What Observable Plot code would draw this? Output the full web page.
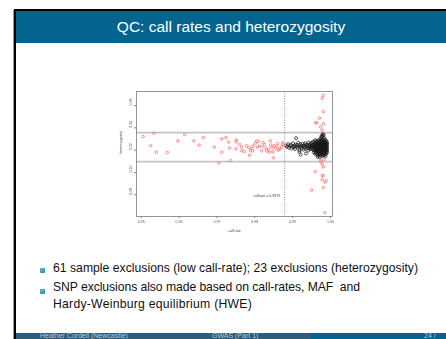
<!DOCTYPE html>
<html>
<head>
<meta charset="utf-8">
<script src="https://cdn.jsdelivr.net/npm/d3@7"></script>
<script src="https://cdn.jsdelivr.net/npm/@observablehq/plot@0.6"></script>
<style>
  html, body { margin: 0; padding: 0; width: 446px; height: 339px; overflow: hidden; background: #fff; font-family: "Liberation Sans", Arial, sans-serif; }
  .abs { position: absolute; }
  #grayline { left: 13px; top: 10px; width: 1px; height: 329px; background: #9a9a9a; }
  #slide { left: 14px; top: 9px; width: 432px; height: 330px; border-left: 2px solid #000; border-top: 2px solid #000; background: #fff; box-sizing: border-box; overflow: hidden; }
  #titlebar { left: 16px; top: 11px; width: 430px; height: 32px; background: #02648f; color: #fff; font-size: 15.5px; line-height: 32px; text-align: center; }
  #chart { left: 100px; top: 80px; width: 240px; height: 160px; }
  #chart svg { filter: blur(0.3px); }
  .bullet { left: 40px; width: 5px; height: 5px; border-radius: 1px; background: radial-gradient(circle at 35% 35%, #5fb7cf, #1a7f9e); }
  .line { left: 53px; font-size: 12.2px; color: #111; white-space: nowrap; line-height: 14px; }
  #footL { left: 16px; top: 333px; width: 295px; height: 12px; background: #2e5c7b; }
  #footR { left: 311px; top: 333px; width: 135px; height: 12px; background: #02648f; }
  .ft { font-size: 7px; color: #b5c8d6; white-space: nowrap; line-height: 7px; top: 332px; }
</style>
</head>
<body>
<div id="grayline" class="abs"></div>
<div id="slide" class="abs"></div>
<div id="titlebar" class="abs">QC: call rates and heterozygosity</div>
<div id="chart" class="abs"></div>

<div class="bullet abs" style="top:268px"></div>
<div class="line abs" data-w="365" style="top:261px">61 sample exclusions (low call-rate); 23 exclusions (heterozygosity)</div>
<div class="bullet abs" style="top:289px"></div>
<div class="line abs" data-w="307" style="top:279.5px">SNP exclusions also made based on call-rates, MAF&nbsp;&nbsp;and</div>
<div class="line abs" data-w="199" style="top:296.5px">Hardy-Weinburg equilibrium (HWE)</div>

<div id="footL" class="abs"></div>
<div id="footR" class="abs"></div>
<div class="ft abs" style="left:40px">Heather Cordell (Newcastle)</div>
<div class="ft abs" style="left:212px">GWAS (Part 1)</div>
<div class="ft abs" style="left:424px">24 /</div>

<script>
// ---- data ----
const xTicks = [0.95, 0.96, 0.97, 0.98, 0.99, 1.00];
const yTicks = [0.28, 0.30, 0.32, 0.34, 0.36];
const hetThresholds = [0.3358, 0.3098];
const callRateThreshold = [0.9879];
const annotationText = ["callrate = 0.9879"];
const annotationX = [0.9832];
const annotationY = [0.2790];

// samples excluded for low call rate (red)
const lowCallRateX = [0.9505,0.9525,0.9533,0.9540,0.9569,0.9597,0.9615,0.9639,0.9653,0.9664,
  0.9693,0.9705,0.9713,0.9713,0.9724,0.9731,0.9733,0.9736,0.9751,0.9751,
  0.9750,0.9765,0.9766,0.9773,0.9778,0.9784,0.9786,0.9789,0.9794,0.9796,
  0.9802,0.9805,0.9810,0.9812,0.9818,0.9821,0.9822,0.9830,0.9832,0.9839,
  0.9841,0.9842,0.9848,0.9849,0.9851,0.9855,0.9860,0.9865,0.9866,0.9873,
  0.9874,0.9760,0.9792,0.9808,0.9826,0.9835,0.9845,0.9858,0.9862,0.9870,0.9876];
const lowCallRateY = [0.3322,0.3239,0.3352,0.3182,0.3179,0.3283,0.3340,0.3283,0.3245,0.3313,
  0.3227,0.3086,0.3301,0.3182,0.3313,0.3272,0.3218,0.3107,0.3292,0.3274,
  0.3212,0.3227,0.3194,0.3188,0.3239,0.3224,0.3155,0.3196,0.3194,0.3239,
  0.3265,0.3281,0.3277,0.3236,0.3194,0.3232,0.3268,0.3214,0.3194,0.3182,
  0.3283,0.3245,0.3185,0.3131,0.3239,0.3218,0.3259,0.3209,0.3212,0.3251,
  0.3265,0.3250,0.3215,0.3228,0.3250,0.3205,0.3222,0.3236,0.3200,0.3225,0.3240];

// samples excluded for heterozygosity (red)
const hetOutlierX = [0.9981,0.9978,0.9981,0.9971,0.9960,0.9964,0.9981,0.9974,0.9978,
  0.9974,0.9978,0.9981,0.9960,0.9978,0.9981,0.9978,0.9989,0.9985,0.9981,0.9950,0.9985,0.9976,0.9983];
const hetOutlierY = [0.3690,0.3666,0.3546,0.3487,0.3445,0.3445,0.3436,0.3409,0.3379,
  0.3104,0.3074,0.3050,0.3008,0.2972,0.2972,0.2936,0.2927,0.2913,0.2865,0.2841,0.2640,0.3095,0.3120];

// retained samples (black)
const keptPoints = [
  [0.9882,0.3242],[0.9885,0.3231],[0.9888,0.3255],[0.9890,0.3222],[0.9893,0.3238],[0.9895,0.3248],
  [0.9897,0.3215],[0.9899,0.3232],[0.9901,0.3262],[0.9903,0.3226],[0.9905,0.3240],[0.9906,0.3210],
  [0.9908,0.3250],[0.9910,0.3232],[0.9909,0.3308],[0.9912,0.3245],[0.9914,0.3220],[0.9915,0.3268],
  [0.9917,0.3236],[0.9918,0.3200],[0.9920,0.3252],[0.9921,0.3228],[0.9923,0.3241],[0.9924,0.3214],
  [0.9926,0.3258],[0.9927,0.3233],[0.9929,0.3205],[0.9930,0.3245],[0.9931,0.3222],[0.9933,0.3262],
  [0.9934,0.3236],[0.9936,0.3212],[0.9937,0.3250],[0.9938,0.3228],[0.9940,0.3240],[0.9941,0.3196],
  [0.9942,0.3270],[0.9943,0.3218],[0.9944,0.3246],[0.9945,0.3232],[0.9946,0.3208],[0.9947,0.3258],
  [0.9948,0.3225],[0.9949,0.3240],[0.9950,0.3214],[0.9951,0.3266],[0.9952,0.3230],[0.9953,0.3248],
  [0.9954,0.3202],[0.9954,0.3276],[0.9921,0.3160],[0.9935,0.3170],[0.9918,0.3185],
  [0.9956,0.3180],[0.9956,0.3205],[0.9956,0.3222],[0.9956,0.3238],[0.9956,0.3255],
  [0.9959,0.3168],[0.9959,0.3195],[0.9959,0.3214],[0.9959,0.3230],[0.9959,0.3247],[0.9959,0.3268],
  [0.9962,0.3175],[0.9962,0.3190],[0.9962,0.3208],[0.9962,0.3226],[0.9962,0.3242],[0.9962,0.3260],[0.9962,0.3281],
  [0.9965,0.3160],[0.9965,0.3183],[0.9965,0.3200],[0.9965,0.3217],[0.9965,0.3234],[0.9965,0.3251],[0.9965,0.3272],
  [0.9968,0.3152],[0.9968,0.3172],[0.9968,0.3192],[0.9968,0.3210],[0.9968,0.3228],[0.9968,0.3246],[0.9968,0.3263],[0.9968,0.3285],
  [0.9971,0.3165],[0.9971,0.3185],[0.9971,0.3203],[0.9971,0.3220],[0.9971,0.3238],[0.9971,0.3256],[0.9971,0.3276],[0.9971,0.3296],
  [0.9974,0.3150],[0.9974,0.3170],[0.9974,0.3190],[0.9974,0.3208],[0.9974,0.3226],[0.9974,0.3244],[0.9974,0.3262],[0.9974,0.3280],[0.9974,0.3305],
  [0.9977,0.3158],[0.9977,0.3178],[0.9977,0.3197],[0.9977,0.3215],[0.9977,0.3233],[0.9977,0.3251],[0.9977,0.3270],[0.9977,0.3290],[0.9977,0.3318],
  [0.9980,0.3148],[0.9980,0.3168],[0.9980,0.3186],[0.9980,0.3204],[0.9980,0.3222],[0.9980,0.3240],[0.9980,0.3258],[0.9980,0.3277],[0.9980,0.3298],[0.9980,0.3330],
  [0.9983,0.3155],[0.9983,0.3175],[0.9983,0.3194],[0.9983,0.3212],[0.9983,0.3230],[0.9983,0.3248],[0.9983,0.3266],[0.9983,0.3286],[0.9983,0.3310],
  [0.9986,0.3162],[0.9986,0.3182],[0.9986,0.3200],[0.9986,0.3218],[0.9986,0.3236],[0.9986,0.3254],[0.9986,0.3273],[0.9986,0.3295],
  [0.9989,0.3170],[0.9989,0.3190],[0.9989,0.3208],[0.9989,0.3226],[0.9989,0.3244],[0.9989,0.3262],[0.9989,0.3282],
  [0.9991,0.3180],[0.9991,0.3200],[0.9991,0.3218],[0.9991,0.3236],[0.9991,0.3254],[0.9991,0.3270],
  [0.9979,0.3342],[0.9982,0.3338],[0.9976,0.3325],[0.9966,0.3140],[0.9972,0.3135],[0.9987,0.3145],[0.9960,0.3290]
];

// ---- build tables ----
const lowCallRate = lowCallRateX.map((x, i) => ({x, y: lowCallRateY[i]}));
const hetOutliers = hetOutlierX.map((x, i) => ({x, y: hetOutlierY[i]}));
const kept = keptPoints.map(([x, y]) => ({x, y}));
const annotation = annotationText.map((t, i) => ({t, x: annotationX[i], y: annotationY[i]}));
const fmt = d3.format(".2f");

const chart = Plot.plot({
  width: 240,
  height: 160,
  marginLeft: 36,
  marginRight: 8,
  marginTop: 11,
  marginBottom: 24,
  style: {background: "transparent", fontFamily: "Liberation Sans, Arial, sans-serif", fontSize: "3.6px", color: "#444"},
  x: {domain: [0.94876, 1.00053]},
  y: {domain: [0.2605, 0.3726]},
  marks: [
    Plot.ruleY(hetThresholds, {stroke: "#c4c4c4", strokeWidth: 1.8}),
    Plot.ruleX(callRateThreshold, {stroke: "#7a7a7a", strokeWidth: 0.7, strokeDasharray: "1.2,1.2"}),
    Plot.dot(kept, {x: "x", y: "y", r: 1.5, stroke: "#111", strokeWidth: 0.7, fill: "none"}),
    Plot.dot(lowCallRate, {x: "x", y: "y", r: 1.3, stroke: "#f48a8a", strokeWidth: 1, fill: "none"}),
    Plot.dot(hetOutliers, {x: "x", y: "y", r: 1.3, stroke: "#f48a8a", strokeWidth: 1, fill: "none"}),
    Plot.frame({stroke: "#7c7c7c", strokeWidth: 0.8}),
    Plot.axisX({ticks: xTicks, tickSize: 2, tickPadding: 2, tickFormat: fmt, label: null, stroke: "#888", fill: "#555", fontSize: 3.6}),
    Plot.axisY({ticks: yTicks, tickSize: 2, tickFormat: () => "", label: null, stroke: "#888"}),
    Plot.text(yTicks, {y: d => d, frameAnchor: "left", text: d => fmt(d), rotate: -90, dx: -6, fill: "#555", fontSize: 3.6}),
    Plot.text(annotation, {x: "x", y: "y", text: "t", fill: "#444", fontSize: 3.6}),
    Plot.text(["call rate"], {frameAnchor: "bottom", dy: 15, fill: "#444", fontSize: 3.6}),
    Plot.text(["heterozygosity"], {frameAnchor: "left", dx: -15.5, rotate: -90, fill: "#444", fontSize: 3.6})
  ]
});
document.getElementById("chart").appendChild(chart);

document.querySelectorAll("[data-w]").forEach(el => {
  const target = +el.dataset.w;
  const w = el.getBoundingClientRect().width;
  const n = el.textContent.length;
  el.style.letterSpacing = ((target - w) / n) + "px";
});
</script>
</body>
</html>
